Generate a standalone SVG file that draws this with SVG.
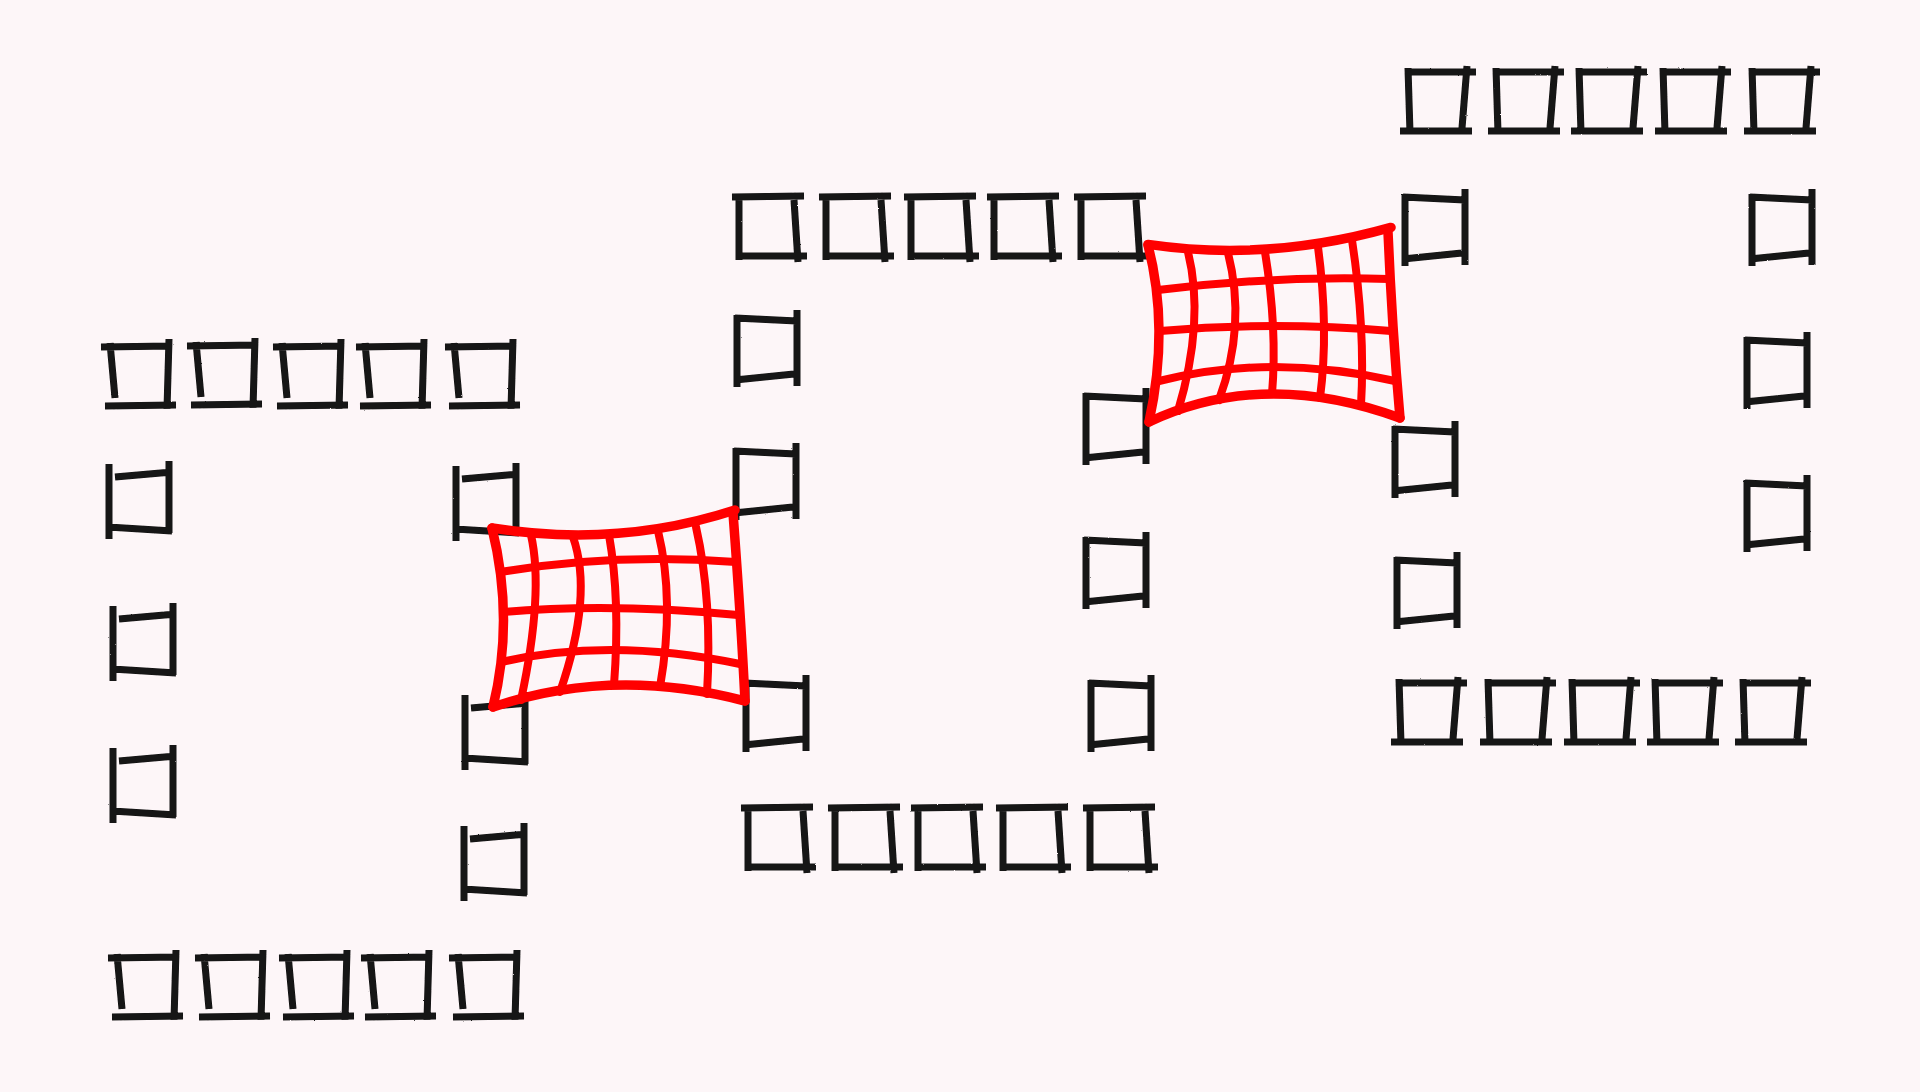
<svg xmlns="http://www.w3.org/2000/svg" xmlns:xlink="http://www.w3.org/1999/xlink" width="1920" height="1092" viewBox="0 0 1920 1092">
<style>
.sq{fill:none;stroke:#121212;stroke-width:7;stroke-linecap:butt;stroke-linejoin:round}
.net{fill:none;stroke:#ff0000;stroke-width:8;stroke-linecap:round;stroke-linejoin:round}
.edge{stroke-width:9.5}
</style>
<defs>
<filter id="rough" x="-10%" y="-10%" width="120%" height="120%">
<feTurbulence type="fractalNoise" baseFrequency="0.7" numOctaves="2" seed="4"/>
<feDisplacementMap in="SourceGraphic" scale="1.6" xChannelSelector="R" yChannelSelector="G" result="d"/>
<feGaussianBlur in="d" stdDeviation="0.35"/>
</filter>
<path id="tH" class="sq" d="M-10,0 L60,-1 M-1,-4 L4,51 M58,-8 L56,62 M-6,59 L65,58"/>
<path id="tH2" class="sq" d="M-7,0 L65,-1 M0,-3 L0,63 M55,3 L59,65 M0,59 L68,59"/>
<path id="tH3" class="sq" d="M-2,0 L68,0 M0,-4 L2,61 M59,-6 L54,56 M-8,59 L64,59"/>
<path id="tV" class="sq" d="M0,-8 L0,67 M6,5 L63,0 M60,-11 L60,61 M-1,55 L63,59"/>
<path id="tV2" class="sq" d="M0,-4 L0,68 M-2,-1 L60,2 M60,-9 L60,67 M-2,61 L57,55"/>
</defs>
<rect width="1920" height="1092" fill="#fdf6f8"/>
<g filter="url(#rough)">
<g id="ring-a">
<use id="a-t1" href="#tH" x="111" y="347"/>
<use id="a-t2" href="#tH" x="197" y="346"/>
<use id="a-t3" href="#tH" x="283" y="347"/>
<use id="a-t4" href="#tH" x="366" y="347"/>
<use id="a-t5" href="#tH" x="455" y="347"/>
<use id="a-l1" href="#tV" x="109" y="472"/>
<use id="a-l2" href="#tV" x="113" y="614"/>
<use id="a-l3" href="#tV" x="113" y="756"/>
<use id="a-r1" href="#tV" x="456" y="474"/>
<use id="a-r2" href="#tV" x="465" y="703"/>
<use id="a-r3" href="#tV" x="464" y="834"/>
<use id="a-b1" href="#tH" x="118" y="958"/>
<use id="a-b2" href="#tH" x="205" y="958"/>
<use id="a-b3" href="#tH" x="289" y="958"/>
<use id="a-b4" href="#tH" x="371" y="958"/>
<use id="a-b5" href="#tH" x="459" y="958"/>
</g>
<g id="ring-b">
<use id="b-t1" href="#tH2" x="739" y="197"/>
<use id="b-t2" href="#tH2" x="826" y="197"/>
<use id="b-t3" href="#tH2" x="911" y="197"/>
<use id="b-t4" href="#tH2" x="994" y="197"/>
<use id="b-t5" href="#tH2" x="1081" y="197"/>
<use id="b-l1" href="#tV2" x="737" y="319"/>
<use id="b-l2" href="#tV2" x="736" y="452"/>
<use id="b-l3" href="#tV2" x="746" y="684"/>
<use id="b-r1" href="#tV2" x="1086" y="397"/>
<use id="b-r2" href="#tV2" x="1086" y="541"/>
<use id="b-r3" href="#tV2" x="1091" y="684"/>
<use id="b-b1" href="#tH2" x="748" y="808"/>
<use id="b-b2" href="#tH2" x="835" y="808"/>
<use id="b-b3" href="#tH2" x="918" y="808"/>
<use id="b-b4" href="#tH2" x="1003" y="808"/>
<use id="b-b5" href="#tH2" x="1090" y="808"/>
</g>
<g id="ring-c">
<use id="c-t1" href="#tH3" x="1408" y="72"/>
<use id="c-t2" href="#tH3" x="1496" y="72"/>
<use id="c-t3" href="#tH3" x="1579" y="72"/>
<use id="c-t4" href="#tH3" x="1663" y="72"/>
<use id="c-t5" href="#tH3" x="1752" y="72"/>
<use id="c-l1" href="#tV2" x="1405" y="198"/>
<use id="c-l2" href="#tV2" x="1395" y="430"/>
<use id="c-l3" href="#tV2" x="1397" y="561"/>
<use id="c-r1" href="#tV2" x="1752" y="198"/>
<use id="c-r2" href="#tV2" x="1747" y="341"/>
<use id="c-r3" href="#tV2" x="1747" y="484"/>
<use id="c-b1" href="#tH3" x="1399" y="683"/>
<use id="c-b2" href="#tH3" x="1488" y="683"/>
<use id="c-b3" href="#tH3" x="1572" y="683"/>
<use id="c-b4" href="#tH3" x="1655" y="683"/>
<use id="c-b5" href="#tH3" x="1743" y="683"/>
</g>
</g>
<g id="connectors">
<g id="net-a" class="net">
<path class="edge" d="M492,528 Q618.5,548 735,510"/>
<path class="edge" d="M733,512.8 Q741.1,620.7 745,701"/>
<path class="edge" d="M493,707 Q613,666.2 745,701"/>
<path class="edge" d="M492,528 Q514.5,619 493,707"/>
<path d="M531,535 Q544,592.5 521,700"/>
<path d="M573,537 Q593.5,595.5 560,692"/>
<path d="M609,535 Q620.5,600 614,685"/>
<path d="M658,531 Q675,601 660,687"/>
<path d="M696,527 Q712.5,599.5 707,694"/>
<path d="M500,572 Q614,553 736,562"/>
<path d="M503,612 Q611,602.5 738,615"/>
<path d="M501,662 Q611,637 740,664"/>
</g>
<g id="net-b" class="net">
<path class="edge" d="M1148,244.4 Q1268.5,262.1 1391,227.4"/>
<path class="edge" d="M1388,232 Q1392,327 1400,418"/>
<path class="edge" d="M1149,422 Q1263.5,368 1400,418"/>
<path class="edge" d="M1148,245 Q1169.5,328.5 1149,422"/>
<path d="M1188,252 Q1205,320.5 1178,411"/>
<path d="M1228,253 Q1246.5,325.5 1219,400"/>
<path d="M1265,252 Q1277.5,329 1272,394"/>
<path d="M1318,247 Q1329,329.5 1320,398"/>
<path d="M1352,240 Q1365.5,329.5 1361,405"/>
<path d="M1158,290 Q1274.5,275.5 1389,279"/>
<path d="M1160,331 Q1272.5,321 1391,331"/>
<path d="M1159,381 Q1271,353 1395,381"/>
</g>
</g>
</svg>
